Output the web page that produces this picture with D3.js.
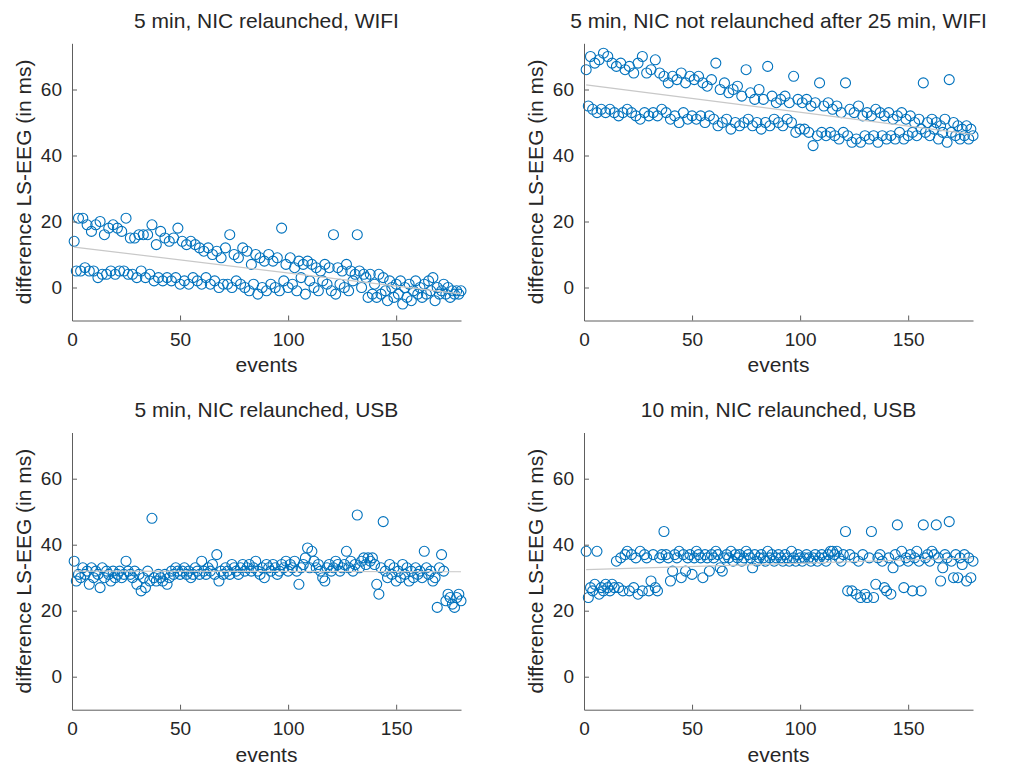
<!DOCTYPE html>
<html>
<head>
<meta charset="utf-8">
<script src="https://cdn.jsdelivr.net/npm/d3@7"></script>
<style>
  body { margin: 0; background: #fff; }
  svg { display: block; }
  text { font-family: "Liberation Sans", Arial, Helvetica, sans-serif; fill: #262626; }
</style>
</head>
<body>
<svg id="fig" width="1023" height="767"></svg>
<script>
// Latency difference between lab streaming layer and EEG timestamps, per event.
const panelTitles = [
  "5 min, NIC relaunched, WIFI",
  "5 min, NIC not relaunched after 25 min, WIFI",
  "5 min, NIC relaunched, USB",
  "10 min, NIC relaunched, USB"
];
const xLabel = "events";
const yLabel = "difference LS-EEG (in ms)";
const xTicks = [0, 50, 100, 150];
const yTicks = [0, 20, 40, 60];
const xRange = [0, 180];
const yRange = [-10, 74];

// Difference in ms for events 1..180
const wifiRelaunched = [
  14, 5, 21, 5, 21, 6, 19, 5, 17, 5,
  19, 3, 20, 4, 16, 4, 18, 5, 19, 4,
  18, 5, 17, 5, 21, 4, 15, 4, 15, 3,
  16, 5, 16, 3, 16, 4, 19, 2, 13, 3,
  17, 2, 15, 3, 14, 2, 15, 3, 18, 1,
  14, 2, 13, 1, 14, 3, 13, 2, 12, 1,
  11, 3, 12, 1, 10, 2, 11, 0, 9, 1,
  12, 1, 16, 0, 10, 2, 9, 1, 12, 0,
  11, -1, 7, 1, 10, -2, 9, 0, 8, -1,
  10, 1, 8, 0, 9, -1, 18, 2, 7, 0,
  9, 1, 6, -1, 8, 3, 7, -2, 8, 2,
  7, 0, 6, -1, 5, 2, 7, 1, 6, -1,
  16, -2, 6, 1, 5, 0, 7, -1, 5, 2,
  4, 16, 5, 0, 4, 3, -3, 4, -2, 1,
  -3, 4, -2, 3, -1, -4, 2, 0, -3, 1,
  -2, 2, -5, 0, -3, 1, -4, -1, 2, -2,
  0, -3, 1, -2, 2, -1, 3, -4, 0, -2,
  -1, 1, -2, 0, -3, -1, -2, -1, -2, -1
];

const wifiNotRelaunched = [
  66, 55, 70, 54, 68, 53, 69, 54, 71, 53,
  70, 54, 68, 53, 67, 52, 68, 53, 66, 54,
  67, 53, 65, 52, 68, 51, 70, 53, 65, 52,
  66, 53, 69, 52, 65, 54, 64, 53, 62, 51,
  64, 52, 63, 50, 65, 53, 62, 51, 64, 52,
  63, 51, 64, 52, 62, 50, 61, 52, 63, 51,
  68, 49, 60, 50, 62, 51, 59, 48, 60, 50,
  61, 49, 58, 50, 66, 51, 59, 49, 57, 50,
  60, 48, 57, 50, 67, 49, 58, 51, 56, 50,
  57, 49, 58, 51, 56, 50, 64, 47, 57, 48,
  56, 48, 57, 47, 55, 43, 56, 46, 62, 47,
  55, 46, 56, 47, 54, 46, 55, 45, 53, 47,
  62, 46, 54, 44, 53, 45, 55, 44, 52, 46,
  53, 45, 52, 46, 54, 44, 53, 46, 52, 45,
  53, 46, 51, 45, 52, 47, 53, 45, 51, 46,
  52, 47, 50, 46, 51, 48, 62, 47, 50, 46,
  51, 48, 50, 45, 49, 47, 51, 44, 63, 47,
  50, 46, 49, 45, 48, 46, 49, 45, 48, 46
];

const usbRelaunched5 = [
  35, 29, 31, 30, 33, 31, 32, 28, 33, 30,
  32, 31, 27, 33, 30, 32, 31, 29, 32, 30,
  31, 32, 30, 31, 35, 32, 31, 30, 32, 28,
  31, 26, 30, 27, 32, 29, 48, 30, 29, 31,
  30, 29, 31, 28, 30, 32, 31, 33, 32, 31,
  32, 33, 31, 32, 30, 31, 33, 32, 31, 35,
  32, 31, 33, 32, 34, 31, 37, 29, 32, 31,
  33, 32, 31, 34, 33, 32, 31, 33, 34, 32,
  33, 34, 32, 33, 35, 32, 31, 33, 30, 34,
  33, 32, 34, 33, 31, 32, 34, 33, 35, 32,
  34, 33, 35, 32, 28, 33, 34, 36, 39, 33,
  38, 35, 33, 34, 32, 30, 29, 33, 34, 32,
  33, 35, 34, 32, 33, 34, 38, 33, 35, 32,
  34, 49, 33, 35, 36, 34, 36, 35, 36, 34,
  28, 25, 33, 47, 32, 30, 34, 31, 33, 29,
  32, 30, 34, 31, 33, 29, 32, 30, 33, 31,
  32, 30, 38, 33, 31, 32, 29, 30, 21, 33,
  37, 32, 23, 25, 24, 22, 21, 24, 25, 23
];

const usbRelaunched10 = [
  38, 24, 27, 26, 28, 38, 25, 27, 26, 28,
  27, 26, 28, 27, 35, 27, 36, 26, 37, 38,
  26, 37, 27, 36, 25, 38, 26, 37, 36, 26,
  29, 37, 27, 26, 36, 37, 44, 37, 36, 29,
  32, 37, 36, 38, 30, 37, 32, 36, 37, 31,
  36, 38, 37, 36, 30, 37, 36, 32, 37, 36,
  38, 37, 33, 32, 36, 37, 36, 38, 35, 37,
  36, 37, 35, 36, 38, 37, 36, 33, 37, 35,
  36, 37, 36, 35, 38, 36, 37, 35, 36, 37,
  36, 35, 37, 36, 35, 38, 36, 35, 37, 36,
  35, 36, 37, 36, 35, 36, 37, 35, 36, 37,
  36, 35, 37, 38, 38, 37, 38, 36, 35, 37,
  44, 26, 37, 26, 36, 25, 35, 24, 37, 25,
  24, 36, 44, 24, 28, 36, 37, 35, 27, 26,
  36, 25, 33, 37, 46, 35, 38, 27, 36, 35,
  37, 26, 36, 38, 35, 26, 46, 36, 37, 35,
  38, 37, 46, 36, 29, 33, 37, 36, 47, 35,
  30, 37, 30, 36, 34, 37, 29, 36, 30, 35
];

const seriesList = [wifiRelaunched, wifiNotRelaunched, usbRelaunched5, usbRelaunched10];

// Panel grid geometry
const plotW = 389, plotH = 277.2;
const lefts = [72, 584], tops = [43.3, 432.5];
const markerColor = "#0072BD";

const svg = d3.select("#fig");

const x = d3.scaleLinear().domain(xRange).range([0, plotW]);
const y = d3.scaleLinear().domain(yRange).range([plotH, 0]);

function leastSquares(xs, ys) {
  const n = xs.length;
  const mx = d3.mean(xs), my = d3.mean(ys);
  let sxy = 0, sxx = 0;
  for (let i = 0; i < n; i++) {
    sxy += (xs[i] - mx) * (ys[i] - my);
    sxx += (xs[i] - mx) * (xs[i] - mx);
  }
  const b = sxy / sxx;
  return { a: my - b * mx, b };
}

seriesList.forEach((values, k) => {
  const col = k % 2, row = Math.floor(k / 2);
  const g = svg.append("g").attr("transform", `translate(${lefts[col]},${tops[row]})`);
  const pts = values.map((v, i) => ({ e: i + 1, v }));

  // scatter markers
  g.append("g").selectAll("circle").data(pts).join("circle")
    .attr("cx", d => x(d.e)).attr("cy", d => y(d.v)).attr("r", 5)
    .attr("fill", "none").attr("stroke", markerColor).attr("stroke-width", 1.1);

  // least-squares line over the event range
  const fit = leastSquares(pts.map(d => d.e), pts.map(d => d.v));
  const e0 = d3.min(pts, d => d.e), e1 = d3.max(pts, d => d.e);
  g.append("line")
    .attr("x1", x(e0)).attr("y1", y(fit.a + fit.b * e0))
    .attr("x2", x(e1)).attr("y2", y(fit.a + fit.b * e1))
    .attr("stroke", "#c8c8c8").attr("stroke-width", 1.2);

  // axes with inward ticks
  const ax = g.append("g").attr("transform", `translate(0,${plotH})`)
    .call(d3.axisBottom(x).tickValues(xTicks).tickSizeInner(-5).tickSizeOuter(0).tickPadding(12));
  const ay = g.append("g")
    .call(d3.axisLeft(y).tickValues(yTicks).tickSizeInner(-5).tickSizeOuter(0).tickPadding(10));
  [ax, ay].forEach(a => {
    a.select(".domain").attr("stroke", "#5e5e5e").attr("stroke-width", 1);
    a.selectAll(".tick line").attr("stroke", "#5e5e5e");
    a.selectAll(".tick text").style("font-size", "19px").attr("fill", "#262626")
      .style("font-family", '"Liberation Sans", Arial, sans-serif');
  });

  g.append("text").attr("x", plotW / 2).attr("y", -15.3)
    .attr("text-anchor", "middle").style("font-size", "21px").text(panelTitles[k]);
  g.append("text").attr("x", plotW / 2).attr("y", plotH + 52)
    .attr("text-anchor", "middle").style("font-size", "21px").text(xLabel);
  g.append("text").attr("transform", `translate(-41,${plotH / 2}) rotate(-90)`)
    .attr("text-anchor", "middle").style("font-size", "21px").text(yLabel);
});
</script>
</body>
</html>
